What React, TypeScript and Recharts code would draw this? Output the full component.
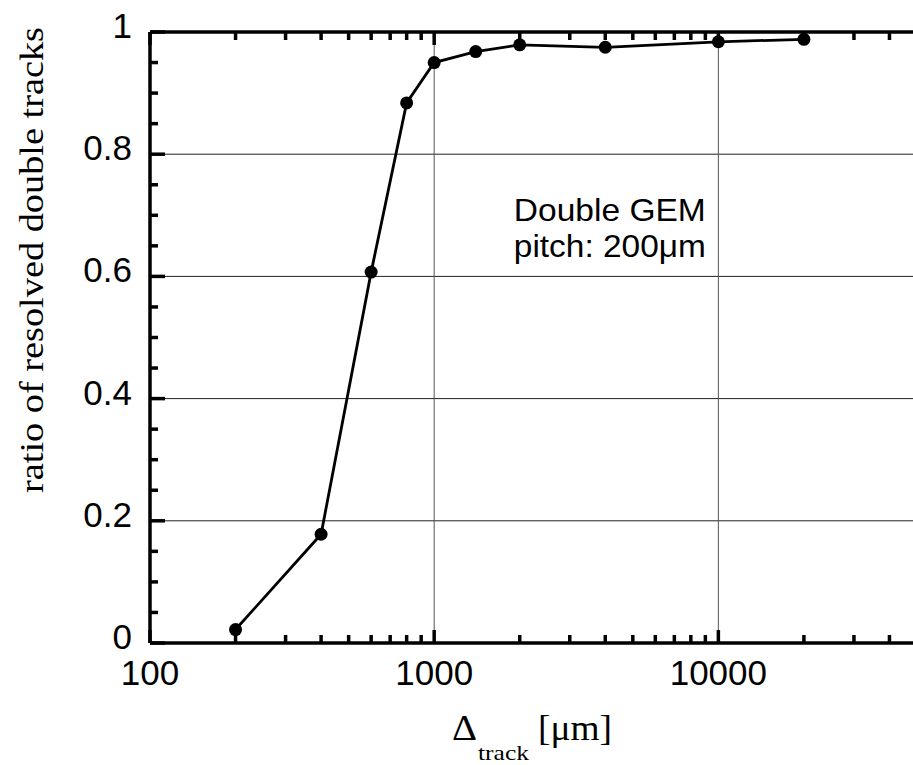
import { Line, LineChart, ReferenceDot, ReferenceLine, XAxis, YAxis, Label } from "recharts";

// separation between the two tracks [um] and resolved ratio
const separations = [200, 400, 600, 800, 1000, 1400, 2000, 4000, 10000, 20000];
const resolvedRatio = [0.022, 0.178, 0.607, 0.884, 0.95, 0.968, 0.979, 0.975, 0.984, 0.988];

const xMajorTicks = [100, 1000, 10000];
const xMinorTicks = [200, 300, 400, 500, 600, 700, 800, 900, 2000, 3000, 4000, 5000, 6000, 7000, 8000, 9000, 20000, 30000, 40000];
const yMajorTicks = [0, 0.2, 0.4, 0.6, 0.8, 1];
const yMinorTicks = [0.05, 0.1, 0.15, 0.25, 0.3, 0.35, 0.45, 0.5, 0.55, 0.65, 0.7, 0.75, 0.85, 0.9, 0.95];
const xGrid = [1000, 10000];
const yGrid = [0.2, 0.4, 0.6, 0.8];

const annotationLines = ["Double GEM", "pitch: 200\u03bcm"];

const data = separations.map((sep, i) => ({ sep, ratio: resolvedRatio[i] }));

const SANS = "'Liberation Sans', Arial, Helvetica, sans-serif";
const SERIF = "'Liberation Serif', 'Times New Roman', serif";
const FRAME = 3.5;

const xTicks = [...xMajorTicks, ...xMinorTicks];
const yTicks = [...yMajorTicks, ...yMinorTicks];

function BottomTick(props: any) {
  const { x, y, payload } = props;
  const major = xMajorTicks.includes(payload.value);
  return (
    <g>
      <line x1={x} x2={x} y1={y} y2={y - (major ? 13 : 8)} stroke="#000" strokeWidth={FRAME} />
      {major && (
        <text x={x} y={y + 42} textAnchor="middle" fontFamily={SANS} fontSize={35} fill="#000">
          {payload.value}
        </text>
      )}
    </g>
  );
}

function TopTick(props: any) {
  const { x, y, payload } = props;
  const major = xMajorTicks.includes(payload.value);
  return <line x1={x} x2={x} y1={y} y2={y + (major ? 13 : 8)} stroke="#000" strokeWidth={FRAME} />;
}

function LeftTick(props: any) {
  const { x, y, payload } = props;
  const major = yMajorTicks.includes(payload.value);
  return (
    <g>
      <line x1={x} x2={x + (major ? 15 : 8)} y1={y} y2={y} stroke="#000" strokeWidth={FRAME} />
      {major && (
        <text x={x - 18} y={y + 6} textAnchor="end" fontFamily={SANS} fontSize={35} fill="#000">
          {payload.value}
        </text>
      )}
    </g>
  );
}

function RightTick(props: any) {
  const { x, y, payload } = props;
  const major = yMajorTicks.includes(payload.value);
  return <line x1={x} x2={x - (major ? 15 : 8)} y1={y} y2={y} stroke="#000" strokeWidth={FRAME} />;
}

function XTitle(props: any) {
  const { x, y } = props.viewBox;
  return (
    <g fontFamily={SERIF} fill="#000">
      <text x={x + 302} y={y + 97} fontSize={36} textLength={25} lengthAdjust="spacingAndGlyphs">
        {"\u0394"}
      </text>
      <text x={x + 328} y={y + 117} fontSize={22} textLength={51} lengthAdjust="spacingAndGlyphs">
        track
      </text>
      <text x={x + 388} y={y + 97} fontSize={36} textLength={74} lengthAdjust="spacingAndGlyphs">
        [{"\u03bc"}m]
      </text>
    </g>
  );
}

function YTitle(props: any) {
  const { x, y } = props.viewBox;
  return (
    <text
      transform={`translate(${x + 43}, ${y + 228}) rotate(-90)`}
      textAnchor="middle"
      fontFamily={SERIF}
      fontSize={34}
      fill="#000"
      textLength={466}
      lengthAdjust="spacingAndGlyphs"
    >
      ratio of resolved double tracks
    </text>
  );
}

function Annotation(props: any) {
  const { x, y } = props.viewBox;
  return (
    <g fontFamily={SANS} fontSize={32} fill="#000">
      {annotationLines.map((t, i) => (
        <text key={t} x={x} y={y + 2 + i * 36} textAnchor="middle" textLength={192} lengthAdjust="spacingAndGlyphs">
          {t}
        </text>
      ))}
    </g>
  );
}

export default function App() {
  return (
    <div style={{ position: "fixed", left: 0, top: 0, width: 913, height: 765, overflow: "hidden", background: "#fff" }}>
      <LineChart width={921} height={765} data={data} margin={{ top: 0, right: 0, bottom: 0, left: 0 }}>
        <XAxis
          xAxisId="b"
          dataKey="sep"
          type="number"
          scale="log"
          domain={[100, 50000]}
          allowDataOverflow
          ticks={xTicks}
          interval={0}
          tickSize={0}
          tickMargin={0}
          tickLine={false}
          tick={BottomTick}
          axisLine={{ stroke: "#000", strokeWidth: FRAME }}
          height={122}
        >
          <Label content={XTitle} />
        </XAxis>
        <XAxis
          xAxisId="t"
          orientation="top"
          dataKey="sep"
          type="number"
          scale="log"
          domain={[100, 50000]}
          allowDataOverflow
          ticks={xTicks}
          interval={0}
          tickSize={0}
          tickMargin={0}
          tickLine={false}
          tick={TopTick}
          axisLine={{ stroke: "#000", strokeWidth: FRAME }}
          height={32}
        />
        <YAxis
          yAxisId="l"
          type="number"
          domain={[0, 1]}
          ticks={yTicks}
          interval={0}
          tickSize={0}
          tickMargin={0}
          tickLine={false}
          tick={LeftTick}
          axisLine={{ stroke: "#000", strokeWidth: FRAME }}
          width={150}
        >
          <Label content={YTitle} />
        </YAxis>
        <YAxis
          yAxisId="r"
          orientation="right"
          type="number"
          domain={[0, 1]}
          ticks={yTicks}
          interval={0}
          tickSize={0}
          tickMargin={0}
          tickLine={false}
          tick={RightTick}
          axisLine={{ stroke: "#000", strokeWidth: FRAME }}
          width={4}
        />
        {yGrid.map((v) => (
          <ReferenceLine key={`gy${v}`} xAxisId="b" yAxisId="l" y={v} stroke="#222" strokeWidth={1} />
        ))}
        {xGrid.map((v) => (
          <ReferenceLine key={`gx${v}`} xAxisId="b" yAxisId="l" x={v} stroke="#555" strokeWidth={1} />
        ))}
        <ReferenceDot xAxisId="b" yAxisId="l" x={4150} y={0.694} r={0} stroke="none" label={Annotation} />
        <Line
          xAxisId="b"
          yAxisId="l"
          dataKey="ratio"
          type="linear"
          stroke="#000"
          strokeWidth={2.8}
          dot={{ r: 6.5, fill: "#000", stroke: "#000", strokeWidth: 0 }}
          activeDot={false}
          isAnimationActive={false}
        />
      </LineChart>
    </div>
  );
}
